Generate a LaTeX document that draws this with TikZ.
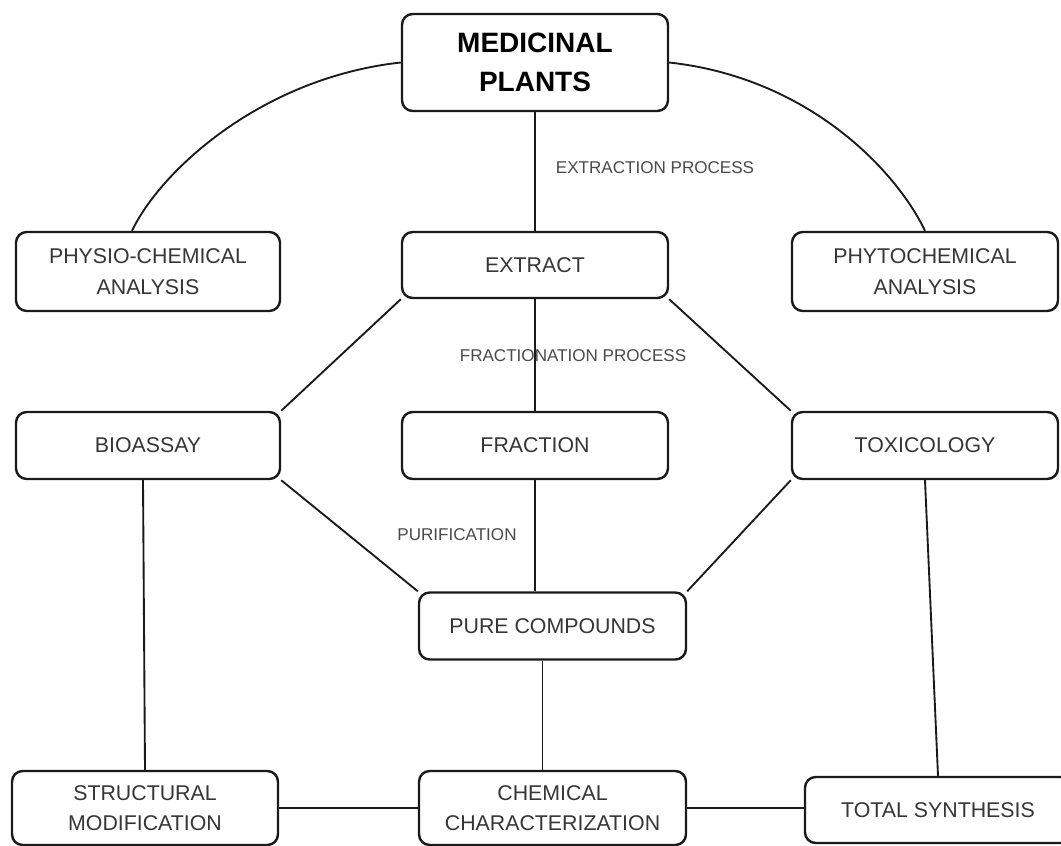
\documentclass[tikz,border=0pt]{standalone}
\usepackage{fontspec}
\setmainfont{Liberation Sans}
\usetikzlibrary{calc}
\definecolor{BoxLine}{HTML}{1A1A1A}
\definecolor{BoxText}{HTML}{363636}
\definecolor{NoteText}{HTML}{4A4A4A}

\begin{document}
\begin{tikzpicture}[
    x=0.75pt, y=-0.75pt,
    stage/.style={
      draw=BoxLine,
      line width=1.8pt,
      rounded corners=8pt,
      fill=white,
      inner sep=0pt,
      minimum width=199.5pt,
      minimum height=50.25pt,
      align=center,
      text=BoxText,
      font=\fontsize{16}{23}\selectfont
    },
    note/.style={
      text=NoteText,
      inner sep=0pt,
      font=\fontsize{12.8}{15}\selectfont
    },
    link/.style={draw=BoxLine, line width=1.4pt}
  ]
    \useasboundingbox (0,0) rectangle (1061,846);

    % top row
    \node[stage, minimum height=72.75pt, text=black,
      font=\fontsize{21}{29}\selectfont\bfseries] (plants) at (535,62.5) {MEDICINAL\\PLANTS};
    \node[stage, minimum width=198pt, minimum height=59.25pt] (physio) at (148,271.5) {PHYSIO-CHEMICAL\\ANALYSIS};
    \node[stage, minimum height=49.5pt] (extract) at (535,265) {EXTRACT};
    \node[stage, minimum height=59.25pt] (phyto) at (925,271.5) {PHYTOCHEMICAL\\ANALYSIS};

    % middle row
    \node[stage, minimum width=198pt] (bioassay) at (148,445.5) {BIOASSAY};
    \node[stage] (fraction) at (535,445.5) {FRACTION};
    \node[stage] (toxic) at (925,445.5) {TOXICOLOGY};
    \node[stage, minimum width=200.25pt] (pure) at (552.5,626) {PURE COMPOUNDS};

    % bottom row
    \node[stage, minimum height=55.5pt] (structural) at (145,808) {STRUCTURAL\\MODIFICATION};
    \node[stage, minimum width=200.25pt, minimum height=55.5pt] (chemchar) at (552.5,808) {CHEMICAL\\CHARACTERIZATION};
    \node[stage, minimum height=49.5pt] (synthesis) at (938,810) {TOTAL SYNTHESIS};

    % process notes
    \node[note] (extraction) at (655,168) {EXTRACTION PROCESS};
    \node[note] (fractionation) at (573,356) {FRACTIONATION PROCESS};
    \node[note] (purification) at (457,535) {PURIFICATION};

    % links
    \draw[link] (plants.west) .. controls (260,78) and (160,172) .. ($(physio.north)+(-16,0)$);
    \draw[link] (plants.east) .. controls (810,78) and (897,172) .. (phyto.north);
    \draw[link] (plants.south) -- (extract.north);
    \draw[link] (extract.south) -- (fraction.north);
    \draw[link] (extract.south west) -- (bioassay.north east);
    \draw[link] (extract.south east) -- (toxic.north west);
    \draw[link] (bioassay.south east) -- (pure.north west);
    \draw[link] (toxic.south west) -- (pure.north east);
    \draw[link] (fraction.south) -- (fraction.south |- pure.north);
    \draw[link] ($(pure.south)+(-10,0)$) -- ($(chemchar.north)+(-10,0)$);
    \draw[link] ($(bioassay.south)+(-5,0)$) -- (structural.north);
    \draw[link] (toxic.south) -- (synthesis.north);
    \draw[link] (structural.east) -- (chemchar.west);
    \draw[link] (chemchar.east) -- (synthesis.west |- chemchar.east);
  \end{tikzpicture}
\end{document}
